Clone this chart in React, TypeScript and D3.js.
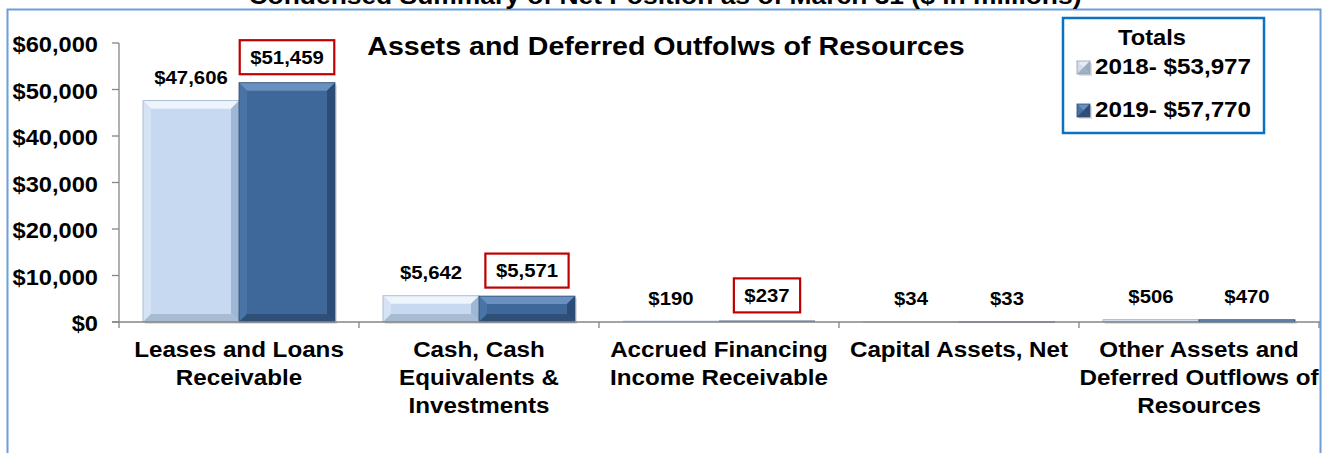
import React from "react";
import * as d3 from "d3";

const W = 1330;
const H = 453;

const mainTitle = "Condensed Summary of Net Position as of March 31 ($ in millions)";
const plotTitle = "Assets and Deferred Outfolws of Resources";
const categories = [
  "Leases and Loans Receivable",
  "Cash, Cash Equivalents & Investments",
  "Accrued Financing Income Receivable",
  "Capital Assets, Net",
  "Other Assets and Deferred Outflows of Resources",
];
const categoryLines = [
  ["Leases and Loans", "Receivable"],
  ["Cash, Cash", "Equivalents &", "Investments"],
  ["Accrued Financing", "Income Receivable"],
  ["Capital Assets, Net"],
  ["Other Assets and", "Deferred Outflows of", "Resources"],
];
const series = ["2018", "2019"];
const values2018 = [47606, 5642, 190, 34, 506];
const values2019 = [51459, 5571, 237, 33, 470];
const boxed2019 = [true, true, true, false, false];
const yTicks = [0, 10000, 20000, 30000, 40000, 50000, 60000];
const legendTitle = "Totals";
const legendLabels = ["2018- $53,977", "2019- $57,770"];

const FONT = "'Liberation Sans', Arial, Helvetica, sans-serif";
const SX = 1.1;

const palettes = [
  { base: "#C6D9F1", top: "#EEF4FC", left: "#D5E3F5", right: "#9FB7D6", bottom: "#A7BBD3", stroke: "#9DB2CC" },
  { base: "#3E6899", top: "#6A90BF", left: "#4A74A6", right: "#2B4C76", bottom: "#2E4F78", stroke: "#2E4D74" },
];

function T({ x, y, size, anchor = "middle", children, fill = "#000" }: any) {
  return (
    <text
      transform={`translate(${x},${y}) scale(${SX},1)`}
      textAnchor={anchor}
      fontFamily={FONT}
      fontWeight="bold"
      fontSize={size}
      fill={fill}
    >
      {children}
    </text>
  );
}

function BevelBar({ x, y, w, h, p }: any) {
  const b = Math.min(8, h / 2, w / 2);
  if (h < 1.5) {
    return <rect x={x} y={y - 0.5} width={w} height={Math.max(h, 1) + 0.5} fill={p.right} opacity={0.7} />;
  }
  return (
    <g>
      <rect x={x + 2} y={y + 2} width={w} height={h} fill="#000" opacity={0.12} />
      <rect x={x} y={y} width={w} height={h} fill={p.base} />
      <polygon points={`${x},${y} ${x + w},${y} ${x + w - b},${y + b} ${x + b},${y + b}`} fill={p.top} />
      <polygon points={`${x},${y} ${x + b},${y + b} ${x + b},${y + h - b} ${x},${y + h}`} fill={p.left} />
      <polygon points={`${x + w},${y} ${x + w},${y + h} ${x + w - b},${y + h - b} ${x + w - b},${y + b}`} fill={p.right} />
      <polygon points={`${x},${y + h} ${x + b},${y + h - b} ${x + w - b},${y + h - b} ${x + w},${y + h}`} fill={p.bottom} />
      <rect x={x} y={y} width={w} height={h} fill="none" stroke={p.stroke} strokeWidth={0.8} />
    </g>
  );
}

export default function App() {
  const x0 = d3.scaleBand<string>().domain(categories).range([119, 1319]).paddingInner(0).paddingOuter(0);
  const x1 = d3.scaleBand<string>().domain(series).range([0, x0.bandwidth()]).paddingInner(0).paddingOuter(0.25);
  const y = d3.scaleLinear().domain([0, 60000]).range([322, 43]);
  const fmt = d3.format("$,.0f");
  const seriesValues = [values2018, values2019];
  const dataLabelSize = 18.5;
  const charW = (s: string) =>
    s.split("").reduce((a, c) => a + (c === "," ? 0.278 : 0.556), 0) * dataLabelSize * SX;

  return (
    <div style={{ position: "absolute", left: 0, top: 0 }}>
      <svg width={W} height={H} style={{ display: "block", background: "#fff" }}>
        <rect x={0} y={0} width={W} height={H} fill="#fff" />
        {/* outer frame */}
        <rect x={7.5} y={9.5} width={1313} height={470} fill="none" stroke="#6A9FD8" strokeWidth={2} />
        {/* main title (cut off at top) */}
        <T x={665} y={4} size={24}>{mainTitle}</T>
        {/* plot title */}
        <T x={666} y={55} size={26}>{plotTitle}</T>

        {/* y axis */}
        <line x1={119} x2={119} y1={y(60000)} y2={y(0)} stroke="#868686" strokeWidth={1.3} />
        {yTicks.map((t) => (
          <g key={t}>
            <line x1={112} x2={119} y1={y(t)} y2={y(t)} stroke="#868686" strokeWidth={1.3} />
            <T x={98} y={y(t) + 9.2} size={21.5} anchor="end">{fmt(t)}</T>
          </g>
        ))}

        {/* bars */}
        {categories.map((c, i) => (
          <g key={c}>
            {series.map((s, si) => {
              const v = seriesValues[si][i];
              const bx = (x0(c) as number) + (x1(s) as number);
              const bw = x1.bandwidth();
              const top = y(v);
              return <BevelBar key={s} x={bx} y={top} w={bw} h={y(0) - top} p={palettes[si]} />;
            })}
          </g>
        ))}

        {/* x axis */}
        <line x1={112} x2={1320} y1={y(0)} y2={y(0)} stroke="#868686" strokeWidth={1.3} />
        {categories.map((c, i) => (
          <line key={"t" + i} x1={x0(c)} x2={x0(c)} y1={y(0)} y2={y(0) + 6} stroke="#868686" strokeWidth={1.3} />
        ))}
        <line x1={1319} x2={1319} y1={y(0)} y2={y(0) + 6} stroke="#868686" strokeWidth={1.3} />

        {/* data labels */}
        {categories.map((c, i) => (
          <g key={"l" + c}>
            {series.map((s, si) => {
              const v = seriesValues[si][i];
              const cx = (x0(c) as number) + (x1(s) as number) + x1.bandwidth() / 2;
              const boxed = si === 1 && boxed2019[i];
              const off = si === 0 ? 23 : boxed ? 25.5 : 23.5;
              const cy = y(v) - off;
              const label = fmt(v);
              const tw = charW(label);
              return (
                <g key={s}>
                  {boxed && (
                    <rect
                      x={cx - tw / 2 - 10.5}
                      y={cy - 17}
                      width={tw + 21}
                      height={34}
                      fill="#fff"
                      stroke="#C00000"
                      strokeWidth={2.2}
                    />
                  )}
                  <T x={cx} y={cy + 6.6} size={dataLabelSize}>{label}</T>
                </g>
              );
            })}
          </g>
        ))}

        {/* category labels */}
        {categories.map((c, i) => (
          <g key={"c" + c}>
            {categoryLines[i].map((ln, li) => (
              <T key={li} x={(x0(c) as number) + x0.bandwidth() / 2} y={357 + li * 28} size={22}>{ln}</T>
            ))}
          </g>
        ))}

        {/* legend */}
        <rect x={1063} y={18} width={201} height={115} fill="#fff" stroke="#0A72C4" strokeWidth={2.5} />
        <T x={1152} y={45} size={21.5}>{legendTitle}</T>
        {legendLabels.map((l, i) => {
          const by = i === 0 ? 74 : 117;
          const p = palettes[i];
          const mc = i === 0 ? { base: "#C3CFDF", top: "#E6ECF4", left: "#D3DDEA", right: "#9AAAC0", bottom: "#9FAFC4", stroke: "#8E9FB6" } : p;
          return (
            <g key={l}>
              <BevelBar x={1077} y={by - 13} w={13} h={13} p={mc} />
              <T x={1095} y={by} size={22} anchor="start">{l}</T>
            </g>
          );
        })}
      </svg>
    </div>
  );
}
